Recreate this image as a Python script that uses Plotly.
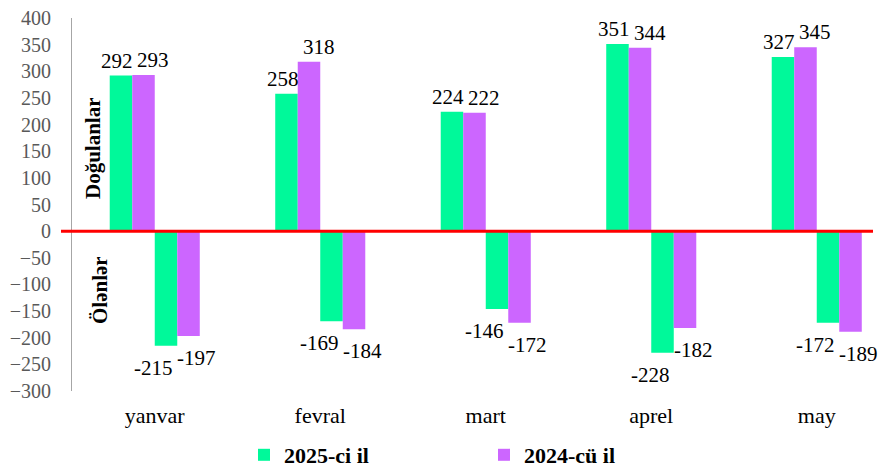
import plotly.graph_objects as go

months = ["yanvar", "fevral", "mart", "aprel", "may"]
births_2025 = [292, 258, 224, 351, 327]
births_2024 = [293, 318, 222, 344, 345]
deaths_2025 = [-215, -169, -146, -228, -172]
deaths_2024 = [-197, -184, -172, -182, -189]
series_names = ["2025-ci il", "2024-cü il"]
y_ticks = list(range(-300, 401, 50))

GREEN = "#00F99A"
PURPLE = "#CC66FF"
SERIF = "Liberation Serif"

# the page body has an 8px margin, so the figure is sized to fit inside it
OFF = 8
W, H = 895 - OFF, 468 - OFF
plot_left, plot_top, plot_bottom = 72, 18, 391   # in screenshot pixels
L = plot_left - OFF
T = plot_top - OFF
R = 0
plot_w = W - L - R
plot_h = plot_bottom - plot_top
B = H - T - plot_h
cat_px = 165.5
BARGAP = 0.456
bar_px = cat_px * (1 - BARGAP) / 4

def px_x(sx):
    return (sx - plot_left) / plot_w

def px_y(sy):
    return (plot_bottom - sy) / plot_h

fig = go.Figure()

def add(vals, color, name, show):
    fig.add_trace(go.Bar(
        x=months, y=vals, name=name, showlegend=show,
        marker=dict(color=color, line=dict(width=0)),
        legendgroup=name, cliponaxis=False,
    ))

add(births_2025, GREEN, series_names[0], True)
add(births_2024, PURPLE, series_names[1], True)
add(deaths_2025, GREEN, series_names[0], False)
add(deaths_2024, PURPLE, series_names[1], False)

# value labels: each pair of labels sits side by side at the seam between the pair of bars
label_font = dict(family=SERIF, size=21, color="black")
annotations = []
for m, b5, b4, d5, d4 in zip(months, births_2025, births_2024, deaths_2025, deaths_2024):
    annotations.append(dict(x=m, y=b5, text=str(b5), xref="x", yref="y", showarrow=False,
                            xanchor="right", yanchor="bottom", xshift=-bar_px + 3, yshift=1,
                            font=label_font))
    annotations.append(dict(x=m, y=b4, text=str(b4), xref="x", yref="y", showarrow=False,
                            xanchor="left", yanchor="bottom", xshift=-bar_px + 3, yshift=1,
                            font=label_font))
    annotations.append(dict(x=m, y=d5, text=str(d5), xref="x", yref="y", showarrow=False,
                            xanchor="right", yanchor="top", xshift=bar_px - 2, yshift=-8,
                            font=label_font))
    annotations.append(dict(x=m, y=d4, text=str(d4), xref="x", yref="y", showarrow=False,
                            xanchor="left", yanchor="top", xshift=bar_px - 2, yshift=-8,
                            font=label_font))

annotations += [
    dict(text="<b>Doğulanlar</b>", xref="paper", yref="paper",
         x=px_x(93), y=px_y(148), xanchor="center", yanchor="middle",
         textangle=-90, showarrow=False,
         font=dict(family=SERIF, size=21, color="black")),
    dict(text="<b>Ölənlər</b>", xref="paper", yref="paper",
         x=px_x(100), y=px_y(290), xanchor="center", yanchor="middle",
         textangle=-90, showarrow=False,
         font=dict(family=SERIF, size=21, color="black")),
]

fig.update_layout(
    width=W, height=H,
    margin=dict(l=L, r=R, t=T, b=B, autoexpand=False),
    paper_bgcolor="white", plot_bgcolor="white",
    barmode="group", bargap=BARGAP, bargroupgap=0,
    font=dict(family=SERIF),
    legend=dict(
        orientation="h", x=px_x(244), xanchor="left",
        y=px_y(455), yanchor="middle",
        font=dict(family=SERIF, size=22, color="black", weight="bold"),
        entrywidth=195, traceorder="normal",
    ),
    xaxis=dict(
        range=[-0.5, -0.5 + plot_w / cat_px], automargin=False,
        showline=False, showgrid=False, zeroline=False, ticks="",
        tickfont=dict(family=SERIF, size=22, color="black"),
        ticklabelstandoff=9,
    ),
    yaxis=dict(
        range=[-300, 400], tickvals=y_ticks, automargin=False,
        showline=True, linecolor="#A6A6A6", linewidth=1,
        showgrid=False, zeroline=False, ticks="",
        tickfont=dict(family=SERIF, size=20, color="#595959"),
        ticklabelstandoff=16, ticklabeloverflow="allow",
    ),
    shapes=[dict(
        type="line", xref="paper", yref="y",
        x0=px_x(61), x1=px_x(873), y0=0, y1=0,
        line=dict(color="#FF0000", width=3),
    )],
    annotations=annotations,
)

fig.write_html("out.html")
